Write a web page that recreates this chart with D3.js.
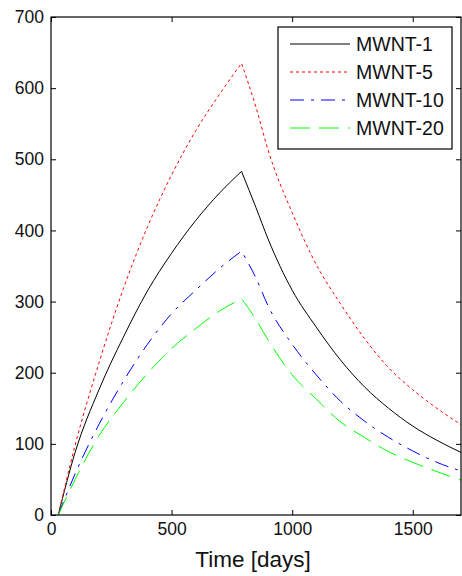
<!DOCTYPE html>
<html>
<head>
<meta charset="utf-8">
<script src="https://cdn.jsdelivr.net/npm/d3@7"></script>
<style>
  body { margin: 0; background: #fff; }
  text { font-family: Arial, "Liberation Sans", sans-serif; fill: #111; }
</style>
</head>
<body>
<svg class="chart"></svg>
<script>
// data
var days = [30, 100, 200, 300, 400, 500, 600, 700, 790, 850, 900, 1000, 1100, 1200, 1300, 1400, 1500, 1600, 1700];
var mwnt1  = [0, 88, 177, 250, 315, 368, 414, 453, 483, 432, 388, 316, 264, 218, 180, 150, 125, 105, 88];
var mwnt5  = [0, 98, 215, 318, 405, 478, 540, 592, 635, 573, 513, 425, 352, 297, 248, 207, 176, 150, 127];
var mwnt10 = [0, 58, 128, 188, 240, 283, 316, 347, 371, 333, 294, 240, 197, 160, 132, 109, 90, 74, 62];
var mwnt20 = [0, 50, 112, 158, 199, 234, 262, 287, 304, 275, 246, 197, 163, 131, 109, 89, 74, 61, 49];
var peakDay = 790;

var seriesNames = ["MWNT-1", "MWNT-5", "MWNT-10", "MWNT-20"];
var seriesValues = [mwnt1, mwnt5, mwnt10, mwnt20];
var seriesColors = ["#000000", "#ff0000", "#0000ff", "#00ff00"];
var seriesDash = [null, "3,3", "14,7,3,7", "20,9"];

var xTicks = [0, 500, 1000, 1500];
var yTicks = [0, 100, 200, 300, 400, 500, 600, 700];

var margin = {top: 17, right: 1, bottom: 61, left: 51},
    width = 462 - margin.left - margin.right,
    height = 576 - margin.top - margin.bottom;

var svg = d3.select(".chart")
    .attr("width", 462)
    .attr("height", 576)
  .append("g")
    .attr("transform", "translate(" + margin.left + "," + margin.top + ")");

var xScale = d3.scaleLinear().domain([0, 1700]).range([0, width]),
    yScale = d3.scaleLinear().domain([0, 700]).range([height, 0]);

// curves: rise and decay drawn separately so the peak stays sharp
var line = d3.line()
    .x(function(d) { return xScale(d[0]); })
    .y(function(d) { return yScale(d[1]); })
    .curve(d3.curveMonotoneX);

seriesValues.forEach(function(vals, i) {
  var pts = days.map(function(t, j) { return [t, vals[j]]; });
  var rise = pts.filter(function(p) { return p[0] <= peakDay; }),
      fall = pts.filter(function(p) { return p[0] >= peakDay; });
  var d = line(rise) + line(fall).replace(/^M/, "L");
  svg.append("path")
      .attr("d", d)
      .attr("fill", "none")
      .attr("stroke", seriesColors[i])
      .attr("stroke-width", 1)
      .attr("stroke-dasharray", seriesDash[i]);
});

// axes, ticks pointing inward (matlab style)
var xAxis = d3.axisBottom(xScale).tickValues(xTicks).tickSize(-5).tickPadding(8).tickFormat(d3.format("d")),
    yAxis = d3.axisLeft(yScale).tickValues(yTicks).tickSize(-5).tickPadding(7).tickFormat(d3.format("d"));

svg.append("g")
    .attr("class", "x axis")
    .attr("transform", "translate(0," + height + ")")
    .call(xAxis);

svg.append("g")
    .attr("class", "y axis")
    .call(yAxis);

svg.append("g")
    .call(d3.axisTop(xScale).tickValues(xTicks).tickSize(-5).tickFormat(""));

svg.append("g")
    .attr("transform", "translate(" + width + ",0)")
    .call(d3.axisRight(yScale).tickValues(yTicks).tickSize(-5).tickFormat(""));

svg.selectAll(".domain").remove();
svg.selectAll(".tick line").attr("stroke", "#000");
svg.selectAll(".tick text")
    .style("font-family", "Arial, 'Liberation Sans', sans-serif")
    .style("font-size", "17.5px")
    .attr("fill", "#111");

svg.append("rect")
    .attr("x", 0)
    .attr("y", 0)
    .attr("width", width)
    .attr("height", height)
    .attr("fill", "none")
    .attr("stroke", "#000")
    .attr("stroke-width", 1.2);

svg.append("text")
    .attr("x", width / 2 - 3)
    .attr("y", height + 52)
    .style("text-anchor", "middle")
    .style("font-size", "22.5px")
    .text("Time [days]");

// legend
var legend = svg.append("g")
    .attr("transform", "translate(" + (278 - margin.left) + "," + (27 - margin.top) + ")");

legend.append("rect")
    .attr("width", 174)
    .attr("height", 122)
    .attr("fill", "#fff")
    .attr("stroke", "#000")
    .attr("stroke-width", 1.2);

seriesNames.forEach(function(name, i) {
  var yy = 17 + i * 28;
  legend.append("line")
      .attr("x1", 12)
      .attr("x2", 72)
      .attr("y1", yy)
      .attr("y2", yy)
      .attr("stroke", seriesColors[i])
      .attr("stroke-width", 1)
      .attr("stroke-dasharray", seriesDash[i]);
  legend.append("text")
      .attr("x", 78)
      .attr("y", yy)
      .attr("dy", "0.36em")
      .style("font-size", "19.5px")
      .text(name);
});
</script>
</body>
</html>
